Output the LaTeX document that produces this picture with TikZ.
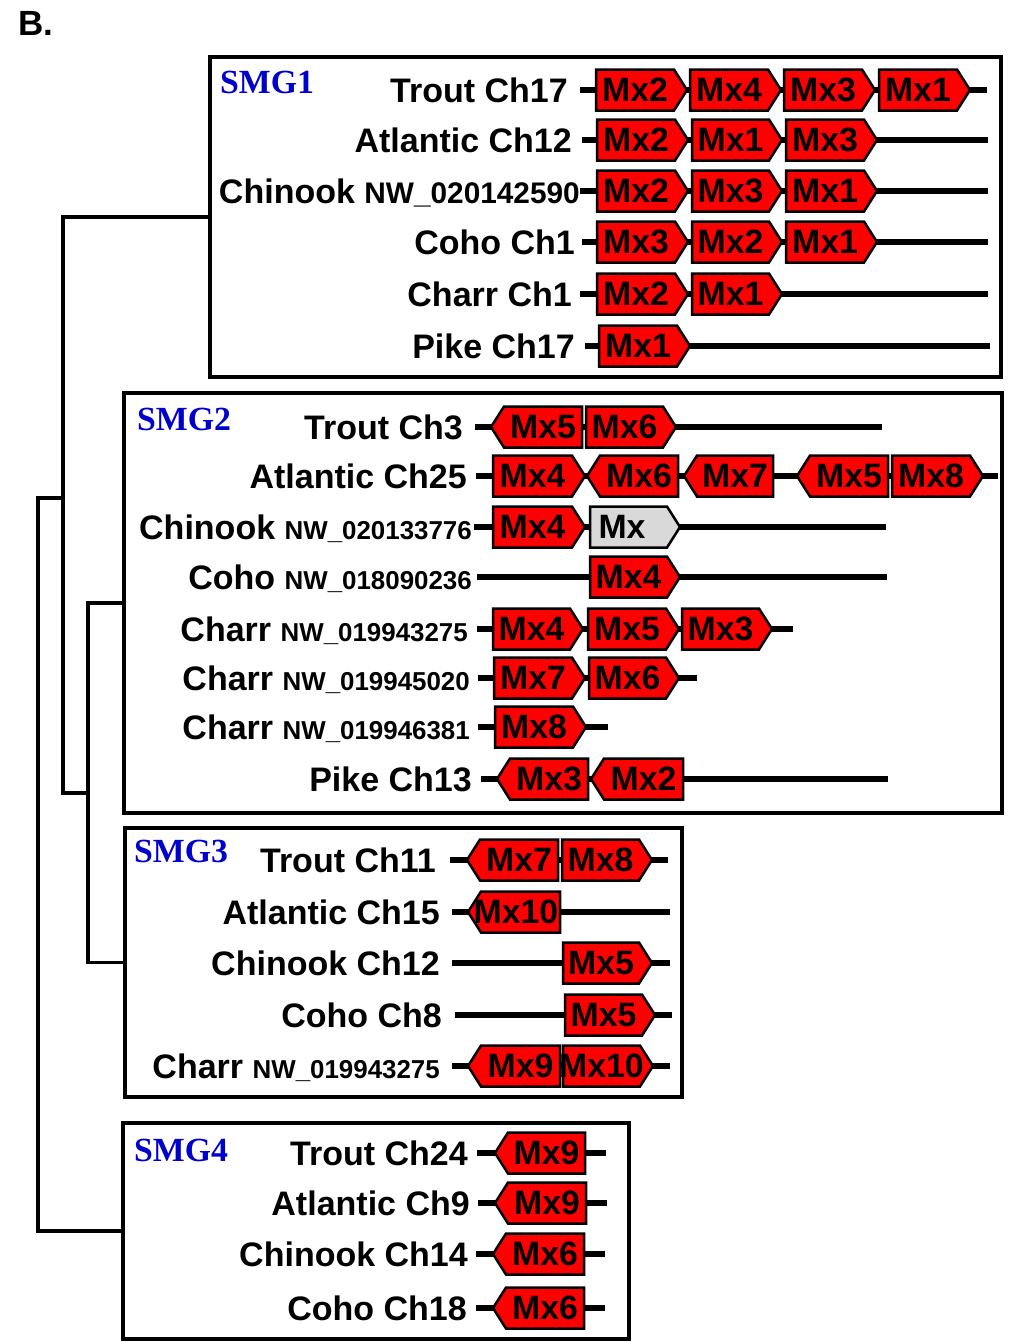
\documentclass[tikz,border=0pt]{standalone}
\usepackage{fontspec}
\setmainfont{Liberation Sans}
\newfontfamily\smgfont{Liberation Serif}
\definecolor{smgblue}{RGB}{0,0,204}
\definecolor{genered}{RGB}{255,0,0}
\definecolor{genegray}{RGB}{217,217,217}
\newcommand\nwbig{\fontsize{29.8}{30}\selectfont}
\newcommand\nwsmall{\fontsize{25.9}{26}\selectfont}
\tikzset{
  grpbox/.style={draw=black, line width=3.5pt, inner sep=0pt, outer sep=0pt, anchor=north west},
  tree/.style={draw=black, line width=3.5pt, line join=miter},
  chrom/.style={draw=black, line width=5.5pt},
  genebox/.style={draw=black, line width=2.5pt, line join=miter, fill=#1},
  genebox/.default=genered,
  mxtext/.style={font=\fontsize{33.8}{34}\selectfont\bfseries, inner sep=0pt, anchor=base},
  lab/.style={font=\fontsize{34}{34}\selectfont\bfseries, inner sep=0pt, anchor=base east},
  smg/.style={font=\smgfont\fontsize{33.8}{34}\selectfont\bfseries, text=smgblue, inner sep=0pt, anchor=base west},
}
% right-pointing gene: [fill]{name}{y}{x left}{x tip}{label}
\newcommand\geneR[6][genered]{%
  \draw[genebox=#1] (#4,#3-20.5) -- (#5-13,#3-20.5) -- (#5,#3) -- (#5-13,#3+20.5) -- (#4,#3+20.5) -- cycle;
  \node[mxtext] (#2) at ({(#4+#5-13)/2},{#3+11.5}) {#6};}
% left-pointing gene: {name}{y}{x tip}{x right}{label}
\newcommand\geneL[5]{%
  \draw[genebox] (#4,#2-20.5) -- (#3+13,#2-20.5) -- (#3,#2) -- (#3+13,#2+20.5) -- (#4,#2+20.5) -- cycle;
  \node[mxtext] (#1) at ({(#3+13+#4)/2},{#2+11.5}) {#5};}
% row label: {name}{y}{x right end}{text}
\newcommand\rowlab[4]{\node[lab] (#1) at (#3,{#2+12}) {#4};}
% chromosome line: {y}{x start}{x end}
\newcommand\chrline[3]{\draw[chrom] (#2,#1) -- (#3,#1);}

\begin{document}
\begin{tikzpicture}[x=1pt,y=-1pt]
\useasboundingbox (0,0) rectangle (1011,1342);

\node[font=\fontsize{35}{35}\selectfont\bfseries, inner sep=0pt, anchor=base west] (panel) at (18,35) {B.};

% group frames
\node[grpbox, minimum width=791pt, minimum height=320pt] (box1) at (210,57) {};
\node[grpbox, minimum width=878pt, minimum height=420pt] (box2) at (124,393) {};
\node[grpbox, minimum width=557pt, minimum height=269pt] (box3) at (125,828) {};
\node[grpbox, minimum width=506pt, minimum height=216pt] (box4) at (123,1123) {};

% tree joining the groups
\coordinate (j1) at (38,498);
\coordinate (j2) at (63,498);
\coordinate (j2b) at (63,793);
\coordinate (j3) at (88,793);
\draw[tree] (box1.west) -| (j2b) -- (j3);
\draw[tree] (box2.west) -| (j3) |- (box3.west);
\draw[tree] (box4.west) -| (j1) -- (j2);

% group titles
\node[smg] (s1) at (220,93) {SMG1};
\node[smg] (s2) at (137,430) {SMG2};
\node[smg] (s3) at (134,862) {SMG3};
\node[smg] (s4) at (134,1161) {SMG4};

% ---------- SMG1 ----------
\rowlab{a1}{90}{568}{Trout Ch17}
\chrline{90}{580}{987}
\geneR{a1g1}{90}{596}{687}{Mx2}
\geneR{a1g2}{90}{690}{781}{Mx4}
\geneR{a1g3}{90}{784}{875}{Mx3}
\geneR{a1g4}{90}{879}{970}{Mx1}

\rowlab{a2}{140}{572}{Atlantic Ch12}
\chrline{140}{582}{988}
\geneR{a2g1}{140}{597}{688}{Mx2}
\geneR{a2g2}{140}{692}{782}{Mx1}
\geneR{a2g3}{140}{786}{877}{Mx3}

\rowlab{a3}{191}{580}{Chinook {\nwbig NW\_020142590}}
\chrline{191}{580}{988}
\geneR{a3g1}{191}{597}{688}{Mx2}
\geneR{a3g2}{191}{692}{782}{Mx3}
\geneR{a3g3}{191}{786}{877}{Mx1}

\rowlab{a4}{242}{575}{Coho Ch1}
\chrline{242}{582}{988}
\geneR{a4g1}{242}{597}{688}{Mx3}
\geneR{a4g2}{242}{692}{782}{Mx2}
\geneR{a4g3}{242}{786}{877}{Mx1}

\rowlab{a5}{294}{572}{Charr Ch1}
\chrline{294}{580}{988}
\geneR{a5g1}{294}{597}{688}{Mx2}
\geneR{a5g2}{294}{692}{782}{Mx1}

\rowlab{a6}{346}{575}{Pike Ch17}
\chrline{346}{585}{990}
\geneR{a6g1}{346}{599}{690}{Mx1}

% ---------- SMG2 ----------
\rowlab{b1}{427}{463}{Trout Ch3}
\chrline{427}{475}{882}
\geneL{b1g1}{427}{491}{582}{Mx5}
\geneR{b1g2}{427}{586}{676}{Mx6}

\rowlab{b2}{476}{467}{Atlantic Ch25}
\chrline{476}{476}{998}
\geneR{b2g1}{476}{493}{585}{Mx4}
\geneL{b2g2}{476}{587}{678}{Mx6}
\geneL{b2g3}{476}{684}{773}{Mx7}
\geneL{b2g4}{476}{797}{888}{Mx5}
\geneR{b2g5}{476}{892}{983}{Mx8}

\rowlab{b3}{527}{472}{Chinook {\nwsmall NW\_020133776}}
\chrline{527}{474}{886}
\geneR{b3g1}{527}{493}{585}{Mx4}
\draw[genebox=genegray] (590,506.5) -- (667,506.5) -- (680,527) -- (667,547.5) -- (590,547.5) -- cycle;
\node[mxtext] (b3g2) at (622,538.5) {Mx};

\rowlab{b4}{577}{472}{Coho {\nwsmall NW\_018090236}}
\chrline{577}{477}{887}
\geneR{b4g1}{577}{590}{680}{Mx4}

\rowlab{b5}{629}{468}{Charr {\nwsmall NW\_019943275}}
\chrline{629}{477}{793}
\geneR{b5g1}{629}{493}{583}{Mx4}
\geneR{b5g2}{629}{588}{679}{Mx5}
\geneR{b5g3}{629}{682}{772}{Mx3}

\rowlab{b6}{678}{470}{Charr {\nwsmall NW\_019945020}}
\chrline{678}{478}{697}
\geneR{b6g1}{678}{494}{585}{Mx7}
\geneR{b6g2}{678}{589}{679}{Mx6}

\rowlab{b7}{727}{470}{Charr {\nwsmall NW\_019946381}}
\chrline{727}{478}{608}
\geneR{b7g1}{727}{495}{586}{Mx8}

\rowlab{b8}{779}{472}{Pike Ch13}
\chrline{779}{481}{888}
\geneL{b8g1}{779}{497}{588}{Mx3}
\geneL{b8g2}{779}{591}{683}{Mx2}

% ---------- SMG3 ----------
\rowlab{c1}{860}{436}{Trout Ch11}
\chrline{860}{450}{668}
\geneL{c1g1}{860}{467}{558}{Mx7}
\geneR{c1g2}{860}{562}{652}{Mx8}

\rowlab{c2}{912}{440}{Atlantic Ch15}
\chrline{912}{452}{670}
\draw[genebox] (560,891.5) -- (481,891.5) -- (468,912) -- (481,932.5) -- (560,932.5) -- cycle;
\node[mxtext] (c2g1) at (516,923.5) {Mx10};

\rowlab{c3}{963}{440}{Chinook Ch12}
\chrline{963}{452}{670}
\geneR{c3g1}{963}{563}{652}{Mx5}

\rowlab{c4}{1015}{442}{Coho Ch8}
\chrline{1015}{455}{672}
\geneR{c4g1}{1015}{565}{655}{Mx5}

\rowlab{c5}{1066}{440}{Charr {\nwsmall NW\_019943275}}
\chrline{1066}{452}{670}
\geneL{c5g1}{1066}{468}{560}{Mx9}
\geneR{c5g2}{1066}{563}{653}{Mx10}

% ---------- SMG4 ----------
\rowlab{d1}{1153}{468}{Trout Ch24}
\chrline{1153}{477}{606}
\geneL{d1g1}{1153}{495}{585}{Mx9}

\rowlab{d2}{1203}{470}{Atlantic Ch9}
\chrline{1203}{478}{607}
\geneL{d2g1}{1203}{495}{586}{Mx9}

\rowlab{d3}{1254}{468}{Chinook Ch14}
\chrline{1254}{476}{605}
\geneL{d3g1}{1254}{493}{584}{Mx6}

\rowlab{d4}{1308}{467}{Coho Ch18}
\chrline{1308}{476}{605}
\geneL{d4g1}{1308}{493}{584}{Mx6}
\end{tikzpicture}
\end{document}
